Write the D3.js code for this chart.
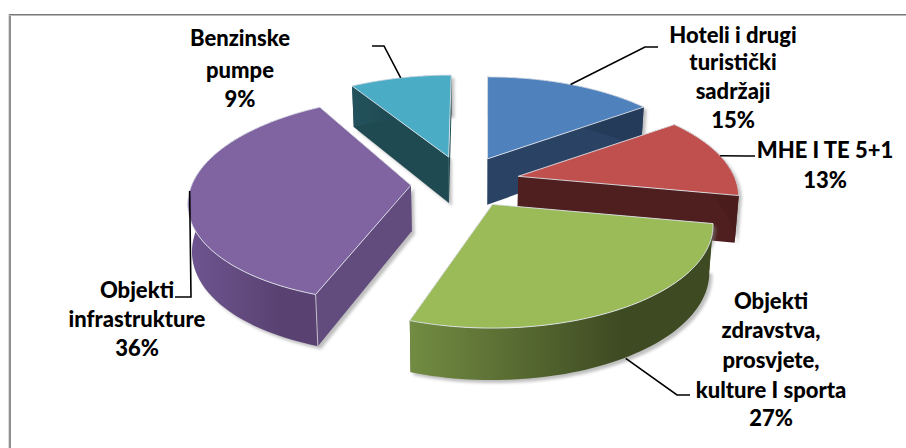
<!DOCTYPE html>
<html><head><meta charset="utf-8">
<script src="https://cdnjs.cloudflare.com/ajax/libs/d3/7.8.5/d3.min.js"></script>
<style>html,body{margin:0;padding:0;background:#fff}svg{display:block}</style>
</head><body><svg id="c" width="906" height="448"></svg>
<script>
const categories = ["Hoteli i drugi turistički sadržaji","MHE I TE 5+1","Objekti zdravstva, prosvjete, kulture I sporta","Objekti infrastrukture","Benzinske pumpe"];
const values = [15,13,27,36,9];
const labelLines = [["Hoteli i drugi","turistički","sadržaji","15%"],["MHE I TE 5+1","13%"],["Objekti","zdravstva,","prosvjete,","kulture I sporta","27%"],["Objekti","infrastrukture","36%"],["Benzinske","pumpe","9%"]];
const topColors = ["#4f81bd","#c0504d","#9bbb59","#8064a2","#4bacc6"];
const sideColors = ["#2a4365","#4f1f1f","#4a5a2a","#624c7d","#1f4a52"];
const wallLight = ["#2f4a70","#5a2320","#728c42","#6f5590","#23525c"];
const wallDark = ["#253b5a","#4a1d1c","#3e4a22","#594272","#1d444c"];
const labelX = [733,825,771,137,240];
const labelY = [[35,62,91,120],[150,180],[301,330,360,390,418],[290,319,348],[38,70,99]];
const leaderTail = [[[645,47],[658,47]],[[747,156],[755,156]],[[677,395],[690,395]],[[191,297],[175,297]],[[384,46],[372,46]]];
const paintOrder = [4,0,3,1,2];
const arcShiftY = [0,0,0,-7,0];
const sliceShiftX = [0,3,2,0,0];

const cx=463.5, cy=182, ex=53, ey=26, A=216, B=98.6, k=0.203;
const svg=d3.select("#c");
const defs=svg.append("defs");
const blur=defs.append("filter").attr("id","sh").attr("x","-10%").attr("y","-10%").attr("width","120%").attr("height","120%");
blur.append("feGaussianBlur").attr("stdDeviation",1.6);

const frame=[[8.5,14,8.5,448,"#dedede",1],[10,14,10,448,"#8f8f8f",2],[9,14.5,906,14.5,"#7a7a7a",1],[9,15.5,906,15.5,"#b8b8b8",1]];
frame.forEach(f=>svg.append("line").attr("x1",f[0]).attr("y1",f[1]).attr("x2",f[2]).attr("y2",f[3]).attr("stroke",f[4]).attr("stroke-width",f[5]));

const arcs=d3.pie().sort(null).value(d=>d)(values);
function pt(t,mid,i){
  const u=Math.sin(t),v=-Math.cos(t),w=1-k*v, sm=Math.sin(mid);
  const tipX=ex*sm;
  const x=cx+sliceShiftX[i]+tipX+A*u/w+(sm<0?tipX*(1/w-1):0);
  return {x, y:cy-ey*Math.cos(mid)+B*v/w+arcShiftY[i], v};
}
const depth=v=>46+6*v;
const bx=x=>cx+(x-cx)*0.985;
const line=d3.line().x(d=>d[0]).y(d=>d[1]);

paintOrder.forEach(i=>{
  const a=arcs[i], mid=(a.startAngle+a.endAngle)/2;
  const tx=cx+sliceShiftX[i]+ex*Math.sin(mid), ty=cy-ey*Math.cos(mid);
  const ts=d3.range(0,61).map(j=>a.startAngle+(a.endAngle-a.startAngle)*j/60);
  const top=ts.map(t=>{const p=pt(t,mid,i);return [p.x,p.y,p.v];});
  const bot=top.map(p=>[bx(p[0]),p[1]+depth(p[2])]);
  const tip=[tx,ty], tipB=[bx(tx),ty+depth(0)];
  const g=svg.append("g");
  const outline=[tip,...top.map(p=>[p[0],p[1]]),...bot.slice().reverse(),tipB];
  g.append("path").attr("d",line(outline)+"Z").attr("fill","#808080").attr("opacity",.5)
    .attr("transform","translate(3,3)").attr("filter","url(#sh)");
  [[top[0],bot[0]],[top[60],bot[60]]].forEach(([p,q])=>{
    g.append("path").attr("d",line([tip,[p[0],p[1]],q,tipB])+"Z").attr("fill",sideColors[i]);
  });
  const id="w"+i, xs=top.map(p=>p[0]);
  const lg=defs.append("linearGradient").attr("id",id).attr("gradientUnits","userSpaceOnUse")
    .attr("x1",d3.min(xs)).attr("x2",d3.max(xs)).attr("y1",0).attr("y2",0);
  lg.append("stop").attr("offset",0).attr("stop-color",wallLight[i]);
  lg.append("stop").attr("offset",.7).attr("stop-color",wallDark[i]);
  lg.append("stop").attr("offset",1).attr("stop-color",wallDark[i]);
  g.append("path").attr("d",line([...top.map(p=>[p[0],p[1]]),...bot.slice().reverse()])+"Z").attr("fill",`url(#${id})`);
  g.append("path").attr("d",line([tip,...top.map(p=>[p[0],p[1]])])+"Z").attr("fill",topColors[i])
    .attr("stroke","#dfe3ea").attr("stroke-width",.9).attr("stroke-linejoin","round");
  [0,60].filter(j=>top[j][2]>0.5&&i===3).forEach(j=>g.append("path").attr("d",line([[top[j][0],top[j][1]],bot[j]])).attr("stroke","#d5d5d5").attr("stroke-width",.8));
});

arcs.forEach((a,i)=>{
  const mid=(a.startAngle+a.endAngle)/2;
  const p=pt(mid,mid,i);
  const front=i===2;
  const start=[p.x,p.y+(front?depth(p.v):0)];
  svg.append("path").attr("d",line([start,...leaderTail[i]])).attr("fill","none").attr("stroke","#000").attr("stroke-width",1.6);
});

labelLines.forEach((ls,i)=>{
  ls.forEach((s,j)=>{
    svg.append("text").attr("x",labelX[i]).attr("y",labelY[i][j]).attr("dy","0.35em").attr("text-anchor","middle")
      .attr("font-family","Lato, Carlito, sans-serif").attr("font-weight",900).attr("font-size",22).attr("fill","#000").text(s);
  });
});
</script></body></html>
